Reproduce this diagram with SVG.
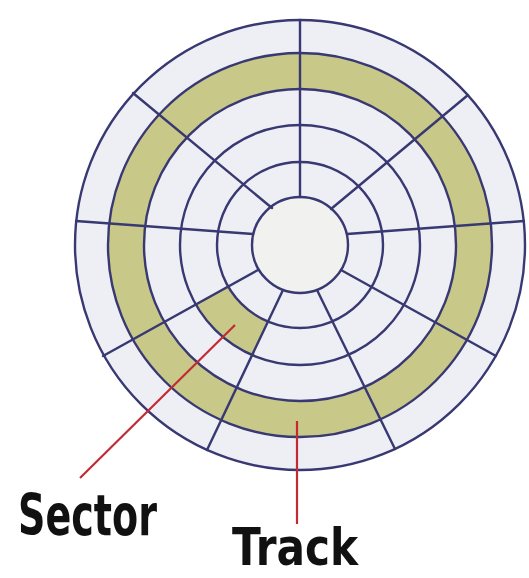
<svg xmlns="http://www.w3.org/2000/svg" width="529" height="578" viewBox="0 0 529 578">
<style>
.ring{fill:none;stroke:#383872;stroke-width:2.4}
.rad{stroke:#383872;stroke-width:2.4;fill:none;stroke-linecap:round}
.ptr{stroke:#c42a34;stroke-width:2.2;fill:none}
.lbl{font-family:"DejaVu Sans Condensed","DejaVu Sans","Liberation Sans",sans-serif;font-weight:bold;fill:#111}
</style>
<rect width="529" height="578" fill="#ffffff"/>
<g id="disk">
<circle cx="300" cy="245" r="225" fill="#eeeef5"/>
<circle cx="300" cy="245" r="174" fill="none" stroke="#c8c888" stroke-width="36"/>
<path id="sector-fill" d="M253.1 355.5 A120 120 0 0 1 196.1 305 L228.1 286.5 A83 83 0 0 0 267.6 321.4 Z" fill="#c8c888"/>
<circle cx="300" cy="245" r="48" fill="#f1f1ef"/>
<circle class="ring" cx="300" cy="245" r="225"/>
<circle class="ring" cx="300" cy="245" r="192"/>
<circle class="ring" cx="300" cy="245" r="156"/>
<circle class="ring" cx="300" cy="245" r="120"/>
<circle class="ring" cx="300" cy="245" r="83"/>
<circle class="ring" cx="300" cy="245" r="48"/>
<g id="sector-lines">
<line class="rad" x1="300" y1="20" x2="300" y2="197"/>
<line class="rad" x1="76" y1="221" x2="253" y2="234"/>
<line class="rad" x1="524" y1="221" x2="347" y2="234"/>
<line class="rad" x1="133" y1="93" x2="272" y2="208"/>
<line class="rad" x1="468" y1="95" x2="331" y2="209"/>
<line class="rad" x1="103" y1="356" x2="258" y2="270"/>
<line class="rad" x1="496" y1="356" x2="341" y2="270"/>
<line class="rad" x1="207" y1="450" x2="283" y2="290"/>
<line class="rad" x1="395" y1="449" x2="317" y2="290"/>
</g>
</g>
<g id="connectors">
<line class="ptr" x1="80" y1="478" x2="235" y2="325"/>
<line class="ptr" x1="297" y1="421" x2="297" y2="524"/>
</g>
<g id="label-sector">
<text class="lbl" x="18" y="535" font-size="57" textLength="139" lengthAdjust="spacingAndGlyphs">Sector</text>
</g>
<g id="label-track">
<text class="lbl" x="232" y="565" font-size="52" textLength="126" lengthAdjust="spacingAndGlyphs">Track</text>
</g>
</svg>
